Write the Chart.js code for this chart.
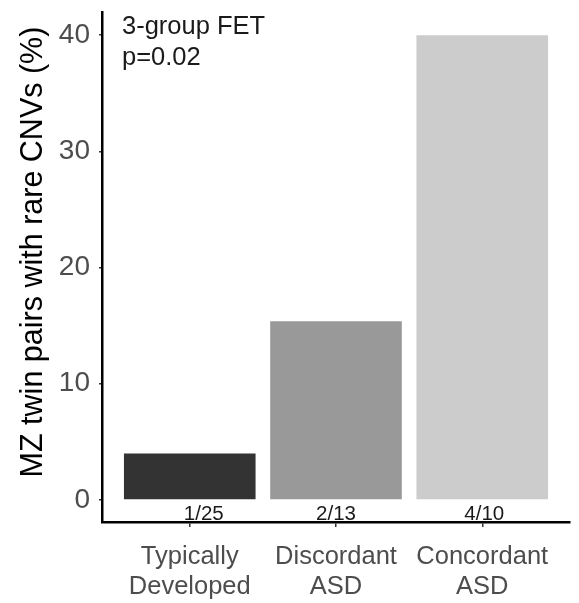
<!DOCTYPE html>
<html>
<head>
<meta charset="utf-8">
<script src="https://cdn.jsdelivr.net/npm/chart.js@4.4.0/dist/chart.umd.min.js"></script>
<style>
html,body{margin:0;padding:0;background:#fff;}
#wrap{width:579px;height:603px;position:relative;}
</style>
</head>
<body>
<div id="wrap"><canvas id="c" width="579" height="603"></canvas></div>
<script>
const categories = [["Typically","Developed"],["Discordant","ASD"],["Concordant","ASD"]];
const percentValues = [4, 15.38, 40];
const countLabels = ["1/25", "2/13", "4/10"];
const barColors = ["#333333", "#999999", "#cccccc"];
const yTicks = [0, 10, 20, 30, 40];
const annotationLines = ["3-group FET", "p=0.02"];
const yTitle = "MZ twin pairs with rare CNVs (%)";

const FONT = "'Liberation Sans', Arial, Helvetica, sans-serif";
const labelNudge = [14, 0, 2];

const overlay = {
  id: 'overlay',
  afterDraw(chart) {
    const ctx = chart.ctx;
    const xs = chart.scales.x;
    ctx.save();
    // count labels
    ctx.fillStyle = '#1a1a1a';
    ctx.font = '20.5px ' + FONT;
    ctx.textAlign = 'center';
    ctx.textBaseline = 'alphabetic';
    countLabels.forEach((t, i) => {
      ctx.fillText(t, xs.getPixelForValue(i + 1) + labelNudge[i], 520);
    });
    // annotation
    ctx.font = '25.5px ' + FONT;
    ctx.textAlign = 'left';
    annotationLines.forEach((t, i) => {
      ctx.fillText(t, 122, 34 + i * 31);
    });
    // y title
    ctx.fillStyle = '#000';
    ctx.font = '30.5px ' + FONT;
    ctx.translate(42, 252);
    ctx.rotate(-Math.PI / 2);
    ctx.textAlign = 'center';
    ctx.textBaseline = 'alphabetic';
    ctx.fillText(yTitle, 0, 0);
    ctx.restore();
  }
};

new Chart(document.getElementById('c'), {
  type: 'bar',
  data: {
    datasets: [{
      data: percentValues.map((v, i) => ({x: i + 1, y: v})),
      backgroundColor: barColors,
      borderWidth: 0,
      categoryPercentage: 1,
      barPercentage: 0.9
    }]
  },
  options: {
    responsive: false,
    animation: false,
    devicePixelRatio: 1,
    layout: {padding: {top: 12, right: 9, left: 0, bottom: 0}},
    plugins: {legend: {display: false}, tooltip: {enabled: false}},
    scales: {
      x: {
        type: 'linear',
        offset: false,
        min: 0.4,
        max: 3.6,
        afterBuildTicks(s) { s.ticks = [1, 2, 3].map(v => ({value: v})); },
        afterFit(s) { s.height = 81; s.paddingLeft = 0; s.paddingRight = 0; },
        grid: {display: true, offset: false, drawOnChartArea: false, drawTicks: true, tickLength: 5, tickColor: '#333', lineWidth: 1.5},
        border: {display: true, color: '#000', width: 2.5},
        ticks: {
          autoSkip: false,
          maxRotation: 0,
          padding: 15,
          color: '#4d4d4d',
          font: {family: FONT, size: 25.5, lineHeight: 1.18},
          callback: (v) => categories[v - 1] || ''
        }
      },
      y: {
        min: -1.9,
        max: 42,
        afterBuildTicks(s) { s.ticks = yTicks.map(v => ({value: v})); },
        afterFit(s) { s.width = 102; s.paddingTop = 0; s.paddingBottom = 0; },
        grid: {display: true, drawOnChartArea: false, drawTicks: true, tickLength: 3, tickColor: '#333', lineWidth: 1.5},
        border: {display: true, color: '#000', width: 2.5},
        ticks: {
          padding: 9,
          color: '#4d4d4d',
          font: {family: FONT, size: 28},
          callback: (v) => String(v)
        }
      }
    }
  },
  plugins: [overlay]
});
</script>
</body>
</html>
